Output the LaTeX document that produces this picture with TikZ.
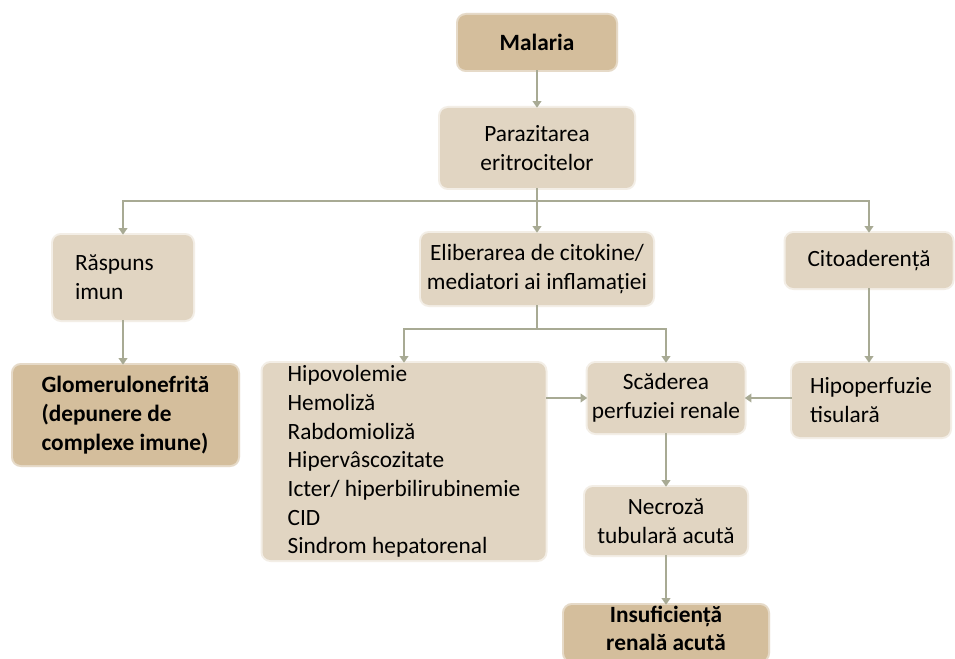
\documentclass[tikz,border=0pt]{standalone}
\usepackage{fontspec}
\setmainfont{Carlito}
\usetikzlibrary{arrows.meta}
\definecolor{boxlight}{RGB}{225,213,194}
\definecolor{boxdeep}{RGB}{212,190,156}
\definecolor{linkc}{RGB}{168,170,148}
\begin{document}
\begin{tikzpicture}[x=0.75pt,y=-0.75pt]
\tikzset{
  box/.style={fill=boxlight, rounded corners=6pt, inner sep=0pt, align=center,
    preaction={draw=boxlight, line width=3pt, opacity=0.4},
    font=\fontsize{17.5}{21.5}\selectfont},
  keybox/.style={box, fill=boxdeep, preaction={draw=boxdeep, line width=3pt, opacity=0.4},
    font=\fontsize{17.5}{22}\selectfont\bfseries},
  link/.style={draw=linkc, line width=1.5pt},
  arr/.style={link, -{Triangle[width=6.5pt,length=5pt]}},
}
\useasboundingbox[fill=white] (0,0) rectangle (955,659);

% top chain
\node[keybox, minimum width=118.5pt, minimum height=41.25pt] (mal) at (537,42.5) {Malaria};
\node[box, minimum width=145.5pt, minimum height=60pt] (par) at (537,148) {Parazitarea\\eritrocitelor};

% second row
\node[box, minimum width=105pt, minimum height=63.75pt, text width=72pt, align=left] (rasp) at (123,277.5) {Răspuns\\imun};
\node[box, minimum width=174pt, minimum height=54pt] (eli) at (537,269) {Eliberarea de citokine/\\mediatori ai inflamației};
\node[box, minimum width=125.25pt, minimum height=41.25pt] (cito) at (869,260.5) {Citoaderență};

% third row
\node[keybox, minimum width=168.75pt, minimum height=75pt, align=left] (glom) at (125.5,415) {Glomerulonefrită\\(depunere de\\complexe imune)};
\node[box, minimum width=212.25pt, minimum height=147.75pt, align=left] (hipo) at (404,461.5)
  {Hipovolemie\\Hemoliză\\Rabdomioliză\\Hipervâscozitate\\Icter/ hiperbilirubinemie\hspace*{6pt}\\CID\\Sindrom hepatorenal};
\node[box, minimum width=117.75pt, minimum height=52.5pt] (scad) at (666,398) {Scăderea\\perfuziei renale};
\node[box, minimum width=118.5pt, minimum height=55.5pt, align=left] (hipop) at (871,400) {Hipoperfuzie\\tisulară};

% bottom chain
\node[box, minimum width=121.5pt, minimum height=51pt] (necr) at (666,521) {Necroză\\tubulară acută};
\node[keybox, minimum width=153pt, minimum height=42pt, text depth=7pt,
  font=\fontsize{17.5}{21}\selectfont\bfseries] (ira) at (666,633) {Insuficiență\\renală acută};

% branch points
\coordinate (fork1) at (537,201);
\coordinate (fork2) at (537,329);

% connectors
\draw[arr] (mal) -- (par);
\draw[arr] (par) -- (eli);
\draw[arr] (fork1) -| (rasp.north);
\draw[arr] (fork1) -| (cito.north);
\draw[link] (eli.south) -- (fork2);
\draw[arr] (fork2) -| (hipo.north);
\draw[arr] (fork2) -| (scad.north);
\draw[arr] (rasp) -- (glom.north -| rasp.south);
\draw[arr] (cito) -- (cito |- hipop.north);
\draw[arr] (hipo.east |- scad.west) -- (scad.west);
\draw[arr] (hipop.west |- scad.east) -- (scad.east);
\draw[arr] (scad) -- (necr);
\draw[arr] (necr) -- (ira);
\end{tikzpicture}
\end{document}
